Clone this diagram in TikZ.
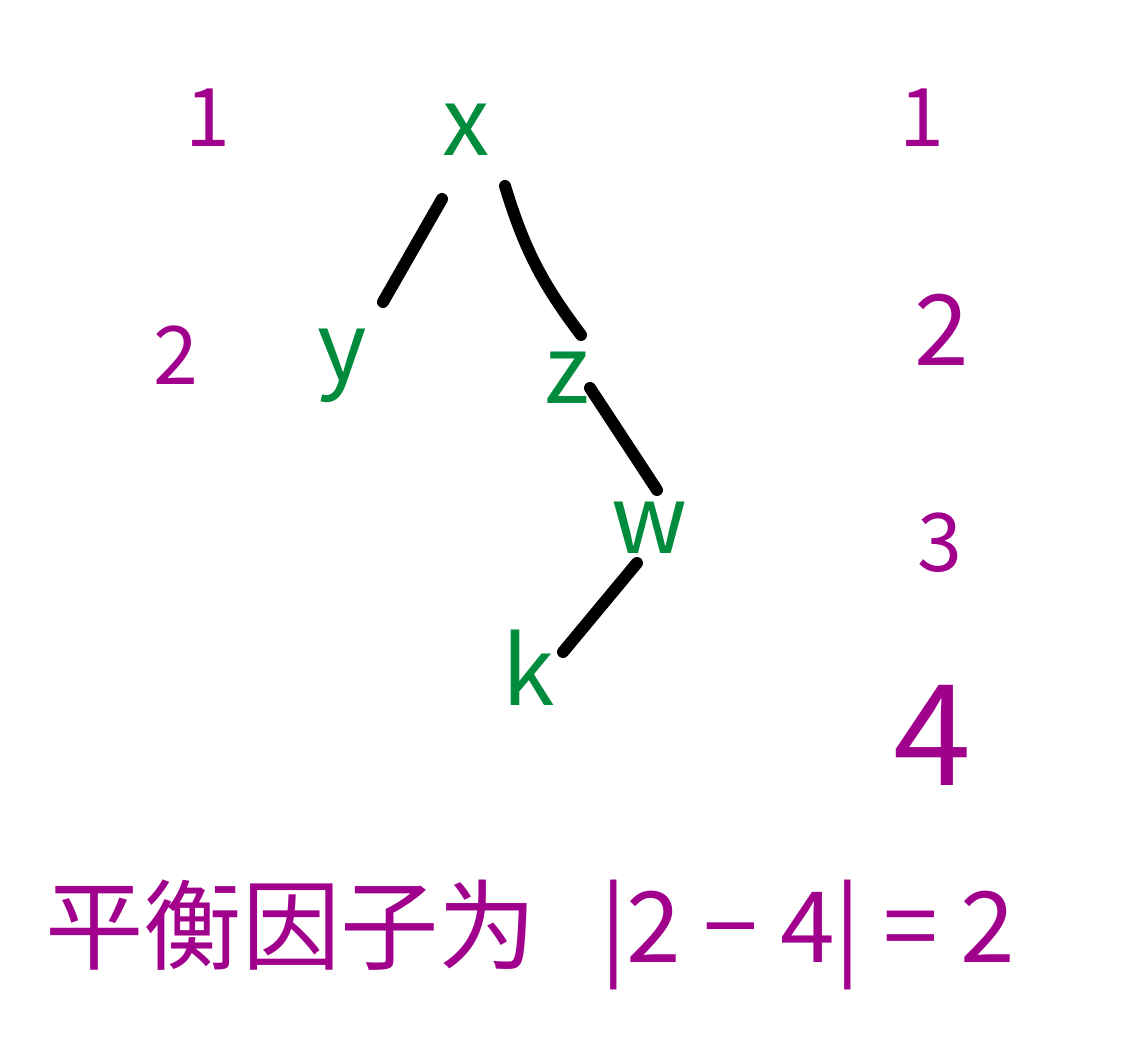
\documentclass[tikz,border=0pt]{standalone}
\usepackage{fontspec}
\setmainfont{Noto Sans CJK SC}
\usepackage{tikz}

\definecolor{inkgreen}{RGB}{0,140,60}
\definecolor{inkpurple}{RGB}{160,0,140}

\tikzset{
  vert/.style={inner sep=0pt, text=inkgreen, font=\fontsize{54}{60}\selectfont},
  lvl/.style={inner sep=0pt, text=inkpurple, font=\fontsize{46}{54}\selectfont},
  edge/.style={line width=0.24cm, line cap=round, color=black}
}

\begin{document}
\begin{tikzpicture}[x=0.02cm, y=-0.02cm]

\useasboundingbox (0,0) rectangle (1134,1060);

% tree
\node[vert] (x) at (466,130) {x};
\node[vert] (y) at (342,366) {y};
\node[vert] (z) at (567,378) {z};
\node[vert] (w) at (650,528) {w};
\node[vert] (k) at (529,668) {k};

\draw[edge] ([shift={(-24,69)}]x.center) -- ([shift={(41,-64)}]y.center);
\draw[edge] ([shift={(39,56)}]x.center) to[bend right=10] ([shift={(14,-43)}]z.center);
\draw[edge] ([shift={(23,10)}]z.center) -- ([shift={(7,-38)}]w.center);
\draw[edge] ([shift={(-13,35)}]w.center) -- ([shift={(34,-16)}]k.center);

% depths on the left
\node[lvl] (l1) at (208,118) {1};
\node[lvl] (l2) at (176,355) {2};

% depths on the right
\node[lvl] (r1) at (922,118) {1};
\node[lvl, font=\fontsize{56}{60}\selectfont] (r2) at (942,330) {2};
\node[lvl] (r3) at (940,543) {3};
\node[lvl, font=\fontsize{80}{90}\selectfont] (r4) at (932,735) {4};

% balance factor
\node[lvl, anchor=west, font=\fontsize{56}{64}\selectfont] (bf) at (45,925) {平衡因子为};
\node[lvl, anchor=west, font=\fontsize{56}{64}\selectfont] (val) at (600,935) {|2 − 4| = 2};

\end{tikzpicture}
\end{document}
